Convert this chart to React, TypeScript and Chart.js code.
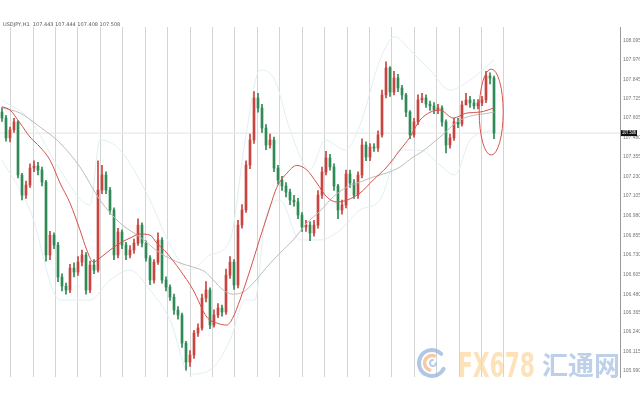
import React, { useEffect, useRef } from "react";
import { Chart, registerables } from "chart.js";

Chart.register(...registerables);

const headerText = "USDJPY,H1  107.443 107.444 107.408 107.508";
const yTickValues = [108.095, 107.976, 107.845, 107.725, 107.605, 107.48, 107.355, 107.23, 107.105, 106.98, 106.855, 106.73, 106.605, 106.48, 106.365, 106.24, 106.115, 105.99];

const firstOpen = 107.64;
const closes = [
  107.602, 107.475, 107.526, 107.577, 107.239, 107.111, 107.175, 107.283, 107.296, 107.271,
  107.194, 106.729, 106.856, 106.793, 106.589, 106.531, 106.506, 106.646, 106.621, 106.684,
  106.729, 106.506, 106.665, 106.633, 107.143, 107.239, 107.143, 107.016, 106.729, 106.876,
  106.793, 106.729, 106.761, 106.805, 106.92, 106.805, 106.71, 106.57, 106.684, 106.825,
  106.57, 106.525, 106.461, 106.378, 106.347, 106.168, 106.047, 106.092, 106.232, 106.264,
  106.455, 106.506, 106.283, 106.347, 106.391, 106.366, 106.601, 106.684, 106.538, 106.92,
  107.016, 107.303, 107.462, 107.729, 107.666, 107.538, 107.43, 107.462, 107.283, 107.207,
  107.169, 107.13, 107.079, 107.067, 106.984, 106.907, 106.92, 106.869, 106.92, 107.111,
  107.258, 107.347, 107.29, 107.169, 107.016, 107.048, 107.245, 107.188, 107.111, 107.239,
  107.43, 107.353, 107.417, 107.411, 107.494, 107.749, 107.921, 107.768, 107.857, 107.793,
  107.749, 107.64, 107.494, 107.577, 107.717, 107.729, 107.691, 107.679, 107.653, 107.666,
  107.577, 107.43, 107.475, 107.577, 107.564, 107.685, 107.717, 107.698, 107.679, 107.698,
  107.717, 107.87, 107.857, 107.506,
];
const highs = [
  107.668, 107.62, 107.545, 107.6, 107.585, 107.25, 107.2, 107.31, 107.33, 107.32,
  107.29, 107.205, 106.88, 106.87, 106.81, 106.61, 106.55, 106.67, 106.68, 106.72,
  106.76, 106.745, 106.69, 106.7, 107.33, 107.3, 107.26, 107.16, 107.03, 106.9,
  106.89, 106.81, 106.79, 106.83, 106.96, 106.935, 106.82, 106.725, 106.7, 106.87,
  106.84, 106.59, 106.54, 106.48, 106.4, 106.36, 106.18, 106.12, 106.25, 106.29,
  106.48, 106.56, 106.52, 106.38, 106.42, 106.41, 106.64, 106.72, 106.7, 106.95,
  107.05, 107.33, 107.5, 107.77, 107.76, 107.69, 107.56, 107.5, 107.48, 107.3,
  107.23, 107.19, 107.15, 107.11, 107.09, 107.0, 106.95, 106.94, 106.95, 107.14,
  107.29, 107.39, 107.37, 107.31, 107.18, 107.08, 107.27, 107.27, 107.21, 107.26,
  107.47, 107.45, 107.44, 107.44, 107.52, 107.78, 107.96, 107.93, 107.9, 107.88,
  107.81, 107.76, 107.65, 107.6, 107.75, 107.76, 107.75, 107.71, 107.7, 107.69,
  107.68, 107.59, 107.5, 107.6, 107.6, 107.71, 107.76, 107.74, 107.72, 107.72,
  107.74, 107.9, 107.89, 107.87,
];
const lows = [
  107.58, 107.455, 107.45, 107.51, 107.22, 107.08, 107.09, 107.16, 107.26, 107.24,
  107.17, 106.69, 106.7, 106.77, 106.56, 106.5, 106.48, 106.49, 106.59, 106.6,
  106.66, 106.48, 106.49, 106.61, 106.62, 107.12, 107.12, 106.99, 106.7, 106.71,
  106.77, 106.7, 106.71, 106.74, 106.79, 106.78, 106.69, 106.54, 106.55, 106.67,
  106.55, 106.5, 106.44, 106.35, 106.32, 106.14, 105.995, 106.02, 106.07, 106.21,
  106.25, 106.43, 106.26, 106.27, 106.33, 106.34, 106.35, 106.58, 106.51, 106.52,
  106.9, 107.0, 107.28, 107.44, 107.64, 107.51, 107.4, 107.41, 107.26, 107.18,
  107.14, 107.1, 107.05, 107.04, 106.96, 106.88, 106.88, 106.82, 106.85, 106.9,
  107.09, 107.24, 107.27, 107.14, 106.96, 106.99, 107.03, 107.16, 107.09, 107.09,
  107.22, 107.33, 107.33, 107.39, 107.39, 107.48, 107.73, 107.74, 107.75, 107.77,
  107.72, 107.61, 107.47, 107.48, 107.56, 107.7, 107.67, 107.65, 107.63, 107.63,
  107.55, 107.38, 107.41, 107.46, 107.54, 107.55, 107.69, 107.67, 107.66, 107.66,
  107.68, 107.7, 107.82, 107.47,
];

const redMaX = [0, 2, 4.5, 7, 9.5, 12, 14.5, 17, 19.5, 21.2, 22.8, 24.5, 27, 29.5, 32, 34.5, 37, 38.7, 41.2, 44.5, 47.8, 51.2, 53.7, 56.2, 57.8, 59.5, 61.2, 62.8, 64.5, 66.2, 67, 68.7, 71.2, 73.7, 76.2, 78.7, 81.2, 83.7, 86.2, 89.5, 92.8, 96.2, 99.5, 102, 104.5, 109.5, 112.8, 116.2, 119.5, 123];
const redMaY = [107.674, 107.653, 107.57, 107.481, 107.417, 107.334, 107.188, 107.06, 106.888, 106.761, 106.684, 106.71, 106.761, 106.805, 106.837, 106.863, 106.856, 106.805, 106.742, 106.633, 106.506, 106.334, 106.296, 106.283, 106.334, 106.443, 106.57, 106.697, 106.837, 106.971, 107.035, 107.16, 107.25, 107.3, 107.271, 107.188, 107.099, 107.067, 107.079, 107.124, 107.207, 107.29, 107.398, 107.481, 107.589, 107.653, 107.602, 107.634, 107.64, 107.666];

const grayMaX = [0, 4.5, 9.5, 14.5, 19.5, 24.5, 29.5, 34.5, 39.5, 44.5, 47.8, 50.8, 52.8, 55.3, 57.8, 60.3, 62.8, 66.2, 69.5, 72.8, 76.2, 79.5, 82.8, 86.2, 89.5, 92.8, 96.2, 99.5, 102.8, 104.5, 109.5, 114.5, 123];
const grayMaY = [107.666, 107.634, 107.545, 107.443, 107.29, 107.079, 106.933, 106.844, 106.742, 106.678, 106.652, 106.621, 106.57, 106.506, 106.48, 106.493, 106.55, 106.652, 106.742, 106.825, 106.933, 107.009, 107.099, 107.162, 107.194, 107.226, 107.252, 107.29, 107.354, 107.379, 107.481, 107.589, 107.64];

const bandUpperX = [0, 7, 14.5, 22, 24.5, 29.5, 37, 42, 47, 52, 57, 60.8, 64.5, 68.2, 72, 77, 80.8, 85.8, 89.5, 94.5, 98.2, 102, 107, 112, 117, 123];
const bandUpperY = [107.717, 107.589, 107.271, 107.048, 107.462, 107.398, 107.079, 106.793, 106.633, 106.729, 106.825, 107.462, 107.908, 107.844, 107.526, 107.271, 107.462, 107.398, 107.557, 107.972, 108.12, 108.035, 107.908, 107.78, 107.844, 107.972];
const bandLowerX = [0, 7, 14.5, 22, 27, 32, 37, 42, 47, 52, 57, 60.8, 63.2, 65.8, 69.5, 74.5, 79.5, 84.5, 89.5, 94.5, 99.5, 104.5, 109.5, 113.2, 117, 123];
const bandLowerY = [107.334, 107.016, 106.442, 106.442, 106.57, 106.633, 106.506, 106.315, 105.97, 105.996, 106.187, 106.442, 106.442, 106.952, 107.079, 106.825, 106.825, 106.888, 107.016, 107.079, 107.398, 107.398, 107.302, 107.239, 107.462, 107.526];

const watermarkLatin = "FX678";
const watermarkCjk = "汇通网";

export default function App() {
  const canvasRef = useRef<HTMLCanvasElement | null>(null);

  useEffect(() => {
    document.body.style.margin = "0";
    const canvas = canvasRef.current;
    if (!canvas) return;

    const opens = [firstOpen, ...closes.slice(0, -1)];
    const up = closes.map((c, i) => c >= opens[i]);
    const upColor = "#c9443f";
    const downColor = "#2f8a55";
    const colors = up.map((u) => (u ? upColor : downColor));
    const lastPrice = closes[closes.length - 1];
    const xMin = -0.5;
    const xMax = 154.5;
    const sepStart = 2.175;
    const sepStep = 5.605;
    const sepCount = 23;

    const toPts = (xs: number[], ys: number[]) => xs.map((x, i) => ({ x, y: ys[i] }));

    const fitText = (ctx: any, text: string, x: number, y: number, w: number) => {
      const m = ctx.measureText(text).width;
      const s = Math.min(1, w / m);
      ctx.save();
      ctx.translate(x, y);
      ctx.scale(s, 1);
      ctx.fillText(text, 0, 0);
      ctx.restore();
    };

    const overlay = {
      id: "overlay",
      afterDraw(chart: any) {
        const ctx = chart.ctx;
        const xs = chart.scales.x;
        const ys = chart.scales.y;
        const area = chart.chartArea;
        ctx.save();
        // header
        ctx.font = "5px 'DejaVu Sans', sans-serif";
        ctx.fillStyle = "#555";
        ctx.textBaseline = "middle";
        ctx.textAlign = "left";
        ctx.fillText(headerText, 3, 25);
        // price label
        const py = ys.getPixelForValue(lastPrice);
        ctx.fillStyle = "#111";
        ctx.fillRect(area.right + 1, py - 3, 16, 6);
        ctx.fillStyle = "#fff";
        ctx.font = "5px 'Liberation Sans Narrow', 'Liberation Sans', sans-serif";
        fitText(ctx, lastPrice.toFixed(3), area.right + 2, py, 14);
        // ellipse annotation
        const cx = xs.getPixelForValue(122.3);
        const cy = ys.getPixelForValue(107.64);
        ctx.beginPath();
        ctx.ellipse(cx, cy, 12, 43, 0, 0, Math.PI * 2);
        ctx.strokeStyle = "#d9534f";
        ctx.lineWidth = 1;
        ctx.stroke();
        // watermark
        ctx.globalAlpha = 0.7;
        const lx = 432, ly = 363;
        ctx.lineCap = "round";
        ctx.beginPath();
        ctx.arc(lx, ly, 13, Math.PI * 0.15, Math.PI * 1.75);
        ctx.strokeStyle = "#8fb0da";
        ctx.lineWidth = 4;
        ctx.stroke();
        ctx.beginPath();
        ctx.arc(lx, ly, 7.5, Math.PI * 0.6, Math.PI * 1.6);
        ctx.strokeStyle = "#f3b27f";
        ctx.lineWidth = 3.5;
        ctx.stroke();
        ctx.beginPath();
        ctx.arc(lx + 1, ly, 3, 0, Math.PI * 1.5);
        ctx.strokeStyle = "#9db8de";
        ctx.lineWidth = 2;
        ctx.stroke();
        const grad = ctx.createLinearGradient(458, 0, 536, 0);
        grad.addColorStop(0, "#fcd59b");
        grad.addColorStop(0.5, "#f8b98a");
        grad.addColorStop(1, "#f4a19b");
        ctx.fillStyle = grad;
        ctx.font = "bold 34px 'Liberation Sans Narrow', 'DejaVu Sans Condensed', sans-serif";
        ctx.textBaseline = "alphabetic";
        fitText(ctx, watermarkLatin, 458, 377, 77);
        ctx.fillStyle = "#a3bce0";
        ctx.font = "bold 26px 'Noto Sans CJK SC', sans-serif";
        fitText(ctx, watermarkCjk, 542, 375, 80);
        ctx.restore();
      },
    };

    const chart = new Chart(canvas, {
      type: "bar",
      data: {
        datasets: [
          {
            type: "line",
            data: [{ x: xMin, y: lastPrice }, { x: xMax, y: lastPrice }],
            borderColor: "#e2e2e2",
            borderWidth: 1,
            pointRadius: 0,
            order: 5,
          } as any,
          {
            type: "line",
            data: toPts(bandUpperX, bandUpperY),
            borderColor: "#e0eff1",
            borderWidth: 1,
            pointRadius: 0,
            cubicInterpolationMode: "monotone",
            order: 4,
          } as any,
          {
            type: "line",
            data: toPts(bandLowerX, bandLowerY),
            borderColor: "#e0eff1",
            borderWidth: 1,
            pointRadius: 0,
            cubicInterpolationMode: "monotone",
            order: 4,
          } as any,
          {
            type: "bar",
            data: closes.map((_, i) => ({ x: i, y: [lows[i], highs[i]] })),
            backgroundColor: colors,
            barThickness: 1,
            grouped: false,
            borderWidth: 0,
            order: 3,
          } as any,
          {
            type: "bar",
            data: closes.map((c, i) => ({ x: i, y: [opens[i], c] })),
            backgroundColor: colors,
            barThickness: 2,
            minBarLength: 1,
            grouped: false,
            borderWidth: 0,
            order: 2,
          } as any,
          {
            type: "line",
            data: toPts(grayMaX, grayMaY),
            borderColor: "#bdbdbd",
            borderWidth: 1,
            pointRadius: 0,
            cubicInterpolationMode: "monotone",
            order: 1,
          } as any,
          {
            type: "line",
            data: toPts(redMaX, redMaY),
            borderColor: "#d5524c",
            borderWidth: 1,
            pointRadius: 0,
            cubicInterpolationMode: "monotone",
            order: 0,
          } as any,
        ],
      },
      options: {
        responsive: false,
        animation: false,
        devicePixelRatio: 1,
        layout: { padding: { top: 27, bottom: 23, left: 0, right: 0 } },
        plugins: { legend: { display: false }, tooltip: { enabled: false } },
        scales: {
          x: {
            type: "linear",
            min: xMin,
            max: xMax,
            offset: false,
            ticks: { display: false },
            border: { display: false },
            grid: { color: "#d4d4d4", lineWidth: 1, drawTicks: false, offset: false },
            afterBuildTicks: (s: any) => {
              const t = [];
              for (let k = 0; k < sepCount; k++) t.push({ value: sepStart + k * sepStep });
              s.ticks = t;
            },
            afterFit: (s: any) => {
              s.height = 0;
            },
          },
          y: {
            type: "linear",
            position: "right",
            min: 105.952,
            max: 108.182,
            grid: { display: false, drawTicks: false },
            border: { display: true, color: "#9a9a9a" },
            ticks: {
              autoSkip: false,
              font: { size: 5, family: "'Liberation Sans Narrow', 'Liberation Sans', sans-serif" },
              color: "#777",
              padding: 3,
              callback: (v: any) => Number(v).toFixed(3),
            },
            afterBuildTicks: (s: any) => {
              s.ticks = yTickValues.map((v) => ({ value: v }));
            },
            afterFit: (s: any) => {
              s.width = 20;
            },
          },
        },
      } as any,
      plugins: [overlay],
    });

    return () => chart.destroy();
  }, []);

  return (
    <div style={{ width: 640, height: 400, background: "#fff" }}>
      <canvas ref={canvasRef} width={640} height={400} style={{ display: "block" }} />
    </div>
  );
}
